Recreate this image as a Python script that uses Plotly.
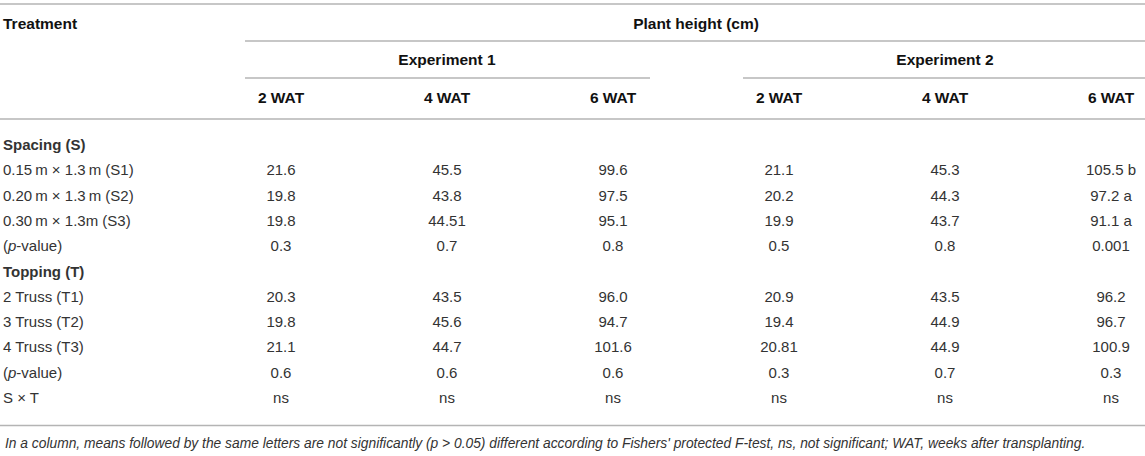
import plotly.graph_objects as go

# ---------------- data ----------------
treatments = [
    "Spacing (S)",
    "0.15\u2009m \u00d7 1.3\u2009m (S1)",
    "0.20\u2009m \u00d7 1.3\u2009m (S2)",
    "0.30\u2009m \u00d7 1.3m (S3)",
    "(<i>p</i>-value)",
    "Topping (T)",
    "2 Truss (T1)",
    "3 Truss (T2)",
    "4 Truss (T3)",
    "(<i>p</i>-value)",
    "S \u00d7 T",
]
section_rows = [0, 5]

col_labels = ["2 WAT", "4 WAT", "6 WAT", "2 WAT", "4 WAT", "6 WAT"]
experiments = ["Experiment 1", "Experiment 2"]
spanner = "Plant height (cm)"
stub_header = "Treatment"

exp1_2wat = ["", "21.6", "19.8", "19.8", "0.3", "", "20.3", "19.8", "21.1", "0.6", "ns"]
exp1_4wat = ["", "45.5", "43.8", "44.51", "0.7", "", "43.5", "45.6", "44.7", "0.6", "ns"]
exp1_6wat = ["", "99.6", "97.5", "95.1", "0.8", "", "96.0", "94.7", "101.6", "0.6", "ns"]
exp2_2wat = ["", "21.1", "20.2", "19.9", "0.5", "", "20.9", "19.4", "20.81", "0.3", "ns"]
exp2_4wat = ["", "45.3", "44.3", "43.7", "0.8", "", "43.5", "44.9", "44.9", "0.7", "ns"]
exp2_6wat = ["", "105.5 b", "97.2 a", "91.1 a", "0.001", "", "96.2", "96.7", "100.9", "0.3", "ns"]
columns = [exp1_2wat, exp1_4wat, exp1_6wat, exp2_2wat, exp2_4wat, exp2_6wat]

footnote = ("<i>In a column, means followed by the same letters are not significantly "
            "(p > 0.05) different according to Fishers' protected F-test, ns, not significant; "
            "WAT, weeks after transplanting.</i>")

# ---------------- style ----------------
FONT = "Liberation Sans, Arial, sans-serif"
BODY = "#333333"
HEAD = "#111111"
RULE = "#b4b4b4"
FS = 15
FSB = 15.5

W, H = 1145, 456
# axis mapping: column index -> x, row index -> y (reversed)
X0_PX, X_STEP = 281.0, 166.0
Y0_PX, Y_STEP = 146.3, 25.3
x_range = [(0 - X0_PX) / X_STEP, (W - X0_PX) / X_STEP]
y_range = [(H - Y0_PX) / Y_STEP, (0 - Y0_PX) / Y_STEP]


def ypx(p):
    return (p - Y0_PX) / Y_STEP


def xpx(p):
    return (p - X0_PX) / X_STEP


rows = list(range(len(treatments)))
fig = go.Figure()

# stub column
stub_text = [f"<b>{t}</b>" if i in section_rows else t for i, t in enumerate(treatments)]
fig.add_trace(go.Scatter(
    x=[xpx(3)] * len(rows), y=rows, text=stub_text, mode="text",
    textposition="middle right",
    textfont=dict(family=FONT, size=FS, color=BODY),
    hoverinfo="skip", showlegend=False, cliponaxis=False))

# data columns
for ci, col in enumerate(columns):
    fig.add_trace(go.Scatter(
        x=[ci] * len(col), y=rows, text=col, mode="text",
        textposition="middle center",
        textfont=dict(family=FONT, size=FS, color=BODY),
        hoverinfo="skip", showlegend=False, cliponaxis=False))

# column headers
fig.add_trace(go.Scatter(
    x=list(range(len(col_labels))), y=[ypx(98.8)] * len(col_labels),
    text=[f"<b>{c}</b>" for c in col_labels], mode="text",
    textposition="middle center",
    textfont=dict(family=FONT, size=FSB, color=HEAD),
    hoverinfo="skip", showlegend=False, cliponaxis=False))

# experiment spanners (centred over their three columns)
fig.add_trace(go.Scatter(
    x=[1, 4], y=[ypx(61.5)] * 2,
    text=[f"<b>{e}</b>" for e in experiments], mode="text",
    textposition="middle center",
    textfont=dict(family=FONT, size=FSB, color=HEAD),
    hoverinfo="skip", showlegend=False, cliponaxis=False))

# top spanner + stub header
fig.add_trace(go.Scatter(
    x=[2.5], y=[ypx(25)], text=[f"<b>{spanner}</b>"], mode="text",
    textposition="middle center",
    textfont=dict(family=FONT, size=FSB, color=HEAD),
    hoverinfo="skip", showlegend=False, cliponaxis=False))
fig.add_trace(go.Scatter(
    x=[xpx(3)], y=[ypx(25)], text=[f"<b>{stub_header}</b>"], mode="text",
    textposition="middle right",
    textfont=dict(family=FONT, size=FSB, color=HEAD),
    hoverinfo="skip", showlegend=False, cliponaxis=False))

# footnote
fig.add_annotation(x=xpx(3), y=ypx(443), xref="x", yref="y", text=footnote,
                   showarrow=False, xanchor="left", yanchor="middle",
                   font=dict(family=FONT, size=13.8, color=BODY))

# rules
ext = 0.217
lines = [
    (x_range[0], x_range[1], ypx(4)),
    (-ext, x_range[1], ypx(41)),
    (-ext, 2 + 0.223, ypx(78)),
    (3 - ext, x_range[1], ypx(78)),
    (x_range[0], x_range[1], ypx(119)),
    (x_range[0], x_range[1], ypx(425.5)),
]
for x0, x1, y in lines:
    fig.add_shape(type="line", x0=x0, x1=x1, y0=y, y1=y, xref="x", yref="y",
                  line=dict(color=RULE, width=1.6))

fig.update_layout(
    width=W, height=H, margin=dict(l=0, r=0, t=0, b=0),
    paper_bgcolor="white", plot_bgcolor="white",
    xaxis=dict(range=x_range, visible=False, fixedrange=True),
    yaxis=dict(range=y_range, visible=False, fixedrange=True),
    showlegend=False,
)

fig.write_html(
    "out.html",
    config={"displayModeBar": False},
    post_script="document.body.style.margin='0';document.body.style.padding='0';",
)
